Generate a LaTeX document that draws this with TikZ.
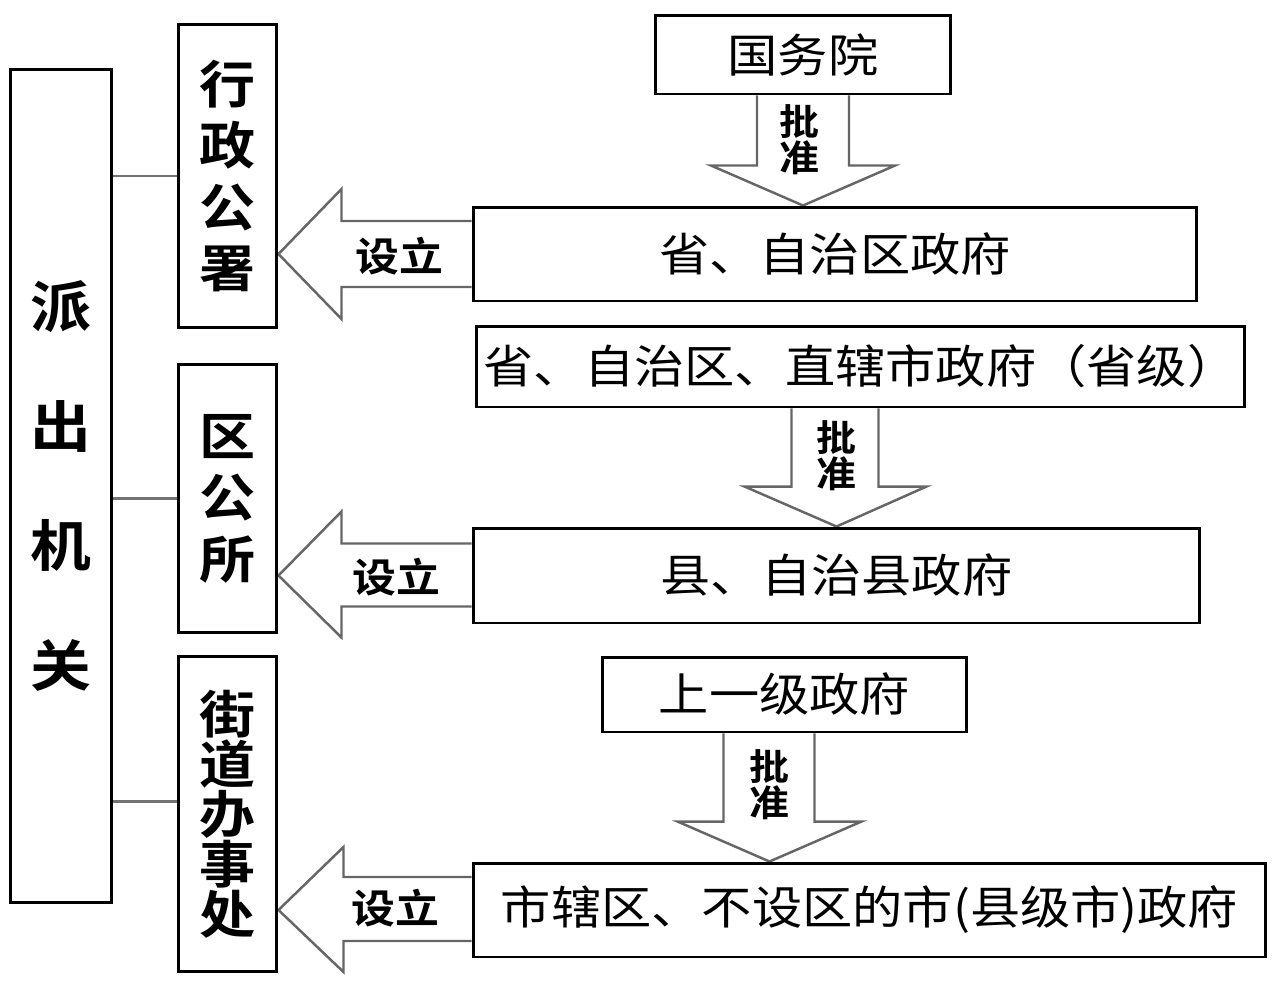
\documentclass[tikz,border=0pt]{standalone}
\usepackage{fontspec}
\newfontfamily\cjk[FakeStretch=1.1]{Noto Sans CJK SC}
\newfontfamily\cjkb[FakeStretch=1.1]{Noto Sans CJK SC Bold}
\usetikzlibrary{calc,backgrounds}

\tikzset{
box/.style={draw,line width=1.7pt,inner sep=0pt,
font=\cjk\fontsize{26pt}{30pt}\selectfont},
colbox/.style={box,minimum width=1.98cm,align=center},
grosfleche/.style={draw=black!60,fill=white,line width=1.4pt},
lien/.style={draw=black!55,line width=1.6pt},
setli/.style={inner sep=0pt,font=\cjkb\fontsize{22.7pt}{24pt}\selectfont},
pizhun/.style={inner sep=0pt,align=center,
font=\cjkb\fontsize{20.7pt}{20.5pt}\selectfont}
}

\begin{document}
\begin{tikzpicture}[x=0.02cm,y=-0.02cm]
\useasboundingbox (0,0) rectangle (1278,984);

% Organe
\node[box,align=center,
minimum width=2.04cm,
minimum height=16.66cm,
font=\cjkb\fontsize{31.5pt}{68pt}\selectfont]
(pcjg)
at (61,486)
{派\\出\\机\\关};

% Organes créés
\node[colbox,
minimum height=6.08cm,
font=\cjkb\fontsize{29pt}{35pt}\selectfont]
(xzgs)
at (227.5,176)
{行\\政\\公\\署};

\node[colbox,
minimum height=5.38cm,
font=\cjkb\fontsize{29pt}{35pt}\selectfont]
(qgs)
at (227.5,498.5)
{区\\公\\所};

\node[colbox,
minimum height=6.32cm,
font=\cjkb\fontsize{29pt}{28.4pt}\selectfont]
(jdbsc)
at (227.5,814)
{街\\道\\办\\事\\处};

% Gouvernements
\node[box,minimum width=5.92cm,minimum height=1.58cm]
(gwy) at (803,54.5) {国务院};

\node[box,minimum width=14.48cm,minimum height=1.88cm]
(sheng) at (835,254) {省、自治区政府};

\node[box,minimum width=15.38cm,minimum height=1.62cm]
(shengji) at (860.5,366.5) {省、自治区、直辖市政府（省级）};

\node[box,minimum width=14.54cm,minimum height=1.9cm]
(xian) at (836.5,575.5) {县、自治县政府};

\node[box,minimum width=7.3cm,minimum height=1.5cm]
(syj) at (784.5,694.5) {上一级政府};

\node[box,minimum width=15.86cm,minimum height=1.88cm]
(sxq) at (869.5,910) {市辖区、不设区的市(县级市)政府};

% Liens
\coordinate (l3) at ([yshift=7pt]jdbsc.west);
\draw[lien] (xzgs.west) -- (xzgs.west -| pcjg.east);
\draw[lien] (qgs.west) -- (qgs.west -| pcjg.east);
\draw[lien] (l3) -- (l3 -| pcjg.east);

% Flèches
\coordinate (t1) at (xzgs.east |- sheng.west);
\coordinate (t2) at (qgs.east |- xian.west);
\coordinate (t3) at (jdbsc.east |- sxq.west);
\coordinate (a1) at (gwy.south);
\coordinate (b1) at (gwy.south |- sheng.north);
\coordinate (b2) at (xian.north);
\coordinate (a2) at (b2 |- shengji.south);
\coordinate (a3) at ($(syj.south)+(-15,0)$);
\coordinate (b3) at (a3 |- sxq.north);

\begin{scope}[on background layer]
\draw[grosfleche] ($(sheng.west)+(0,-33)$) -| ($(t1)+(63,-65)$)
-- (t1) -- ($(t1)+(63,65)$) |- ($(sheng.west)+(0,33)$);
\draw[grosfleche] ($(xian.west)+(0,-32)$) -| ($(t2)+(63,-64)$)
-- (t2) -- ($(t2)+(63,62)$) |- ($(xian.west)+(0,31)$);
\draw[grosfleche] ($(sxq.west)+(0,-33)$) -| ($(t3)+(65,-63)$)
-- (t3) -- ($(t3)+(65,62)$) |- ($(sxq.west)+(0,31)$);

\draw[grosfleche] ($(a1)+(-46,0)$) |- ($(b1)+(-92,-40)$)
-- (b1) -- ($(b1)+(92,-40)$) -| ($(a1)+(46,0)$);
\draw[grosfleche] ($(a2)+(-45,0)$) |- ($(b2)+(-92,-40)$)
-- (b2) -- ($(b2)+(90,-40)$) -| ($(a2)+(42,0)$);
\draw[grosfleche] ($(a3)+(-46,0)$) |- ($(b3)+(-92,-40)$)
-- (b3) -- ($(b3)+(92,-40)$) -| ($(a3)+(45,0)$);
\end{scope}

\node[setli] (s1) at ($(sheng.west)+(-72,2)$) {设立};
\node[setli] (s2) at ($(xian.west)+(-75,2)$) {设立};
\node[setli] (s3) at ($(sxq.west)+(-76,-2)$) {设立};

\node[pizhun] (p1) at ($(a1)!0.4!(b1)+(-4,0)$) {批\\准};
\node[pizhun] (p2) at ($(a2)!0.4!(b2)$) {批\\准};
\node[pizhun] (p3) at ($(a3)!0.4!(b3)$) {批\\准};

\end{tikzpicture}
\end{document}
